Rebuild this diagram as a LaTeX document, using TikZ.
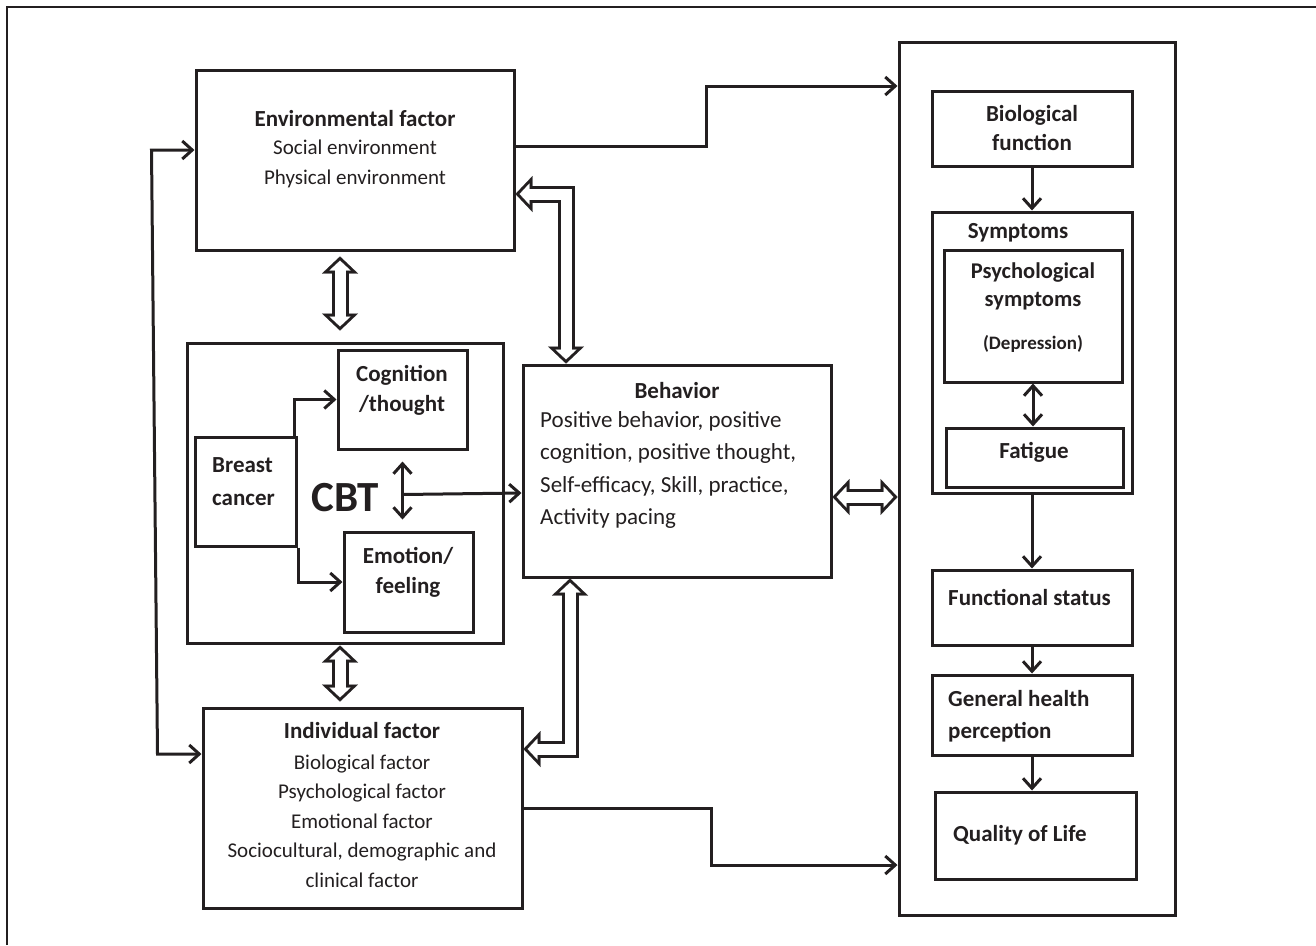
\documentclass[tikz,border=0pt]{standalone}
\usepackage{fontspec}
\setmainfont{Carlito}
\usetikzlibrary{arrows.meta}

\definecolor{tinta}{RGB}{35,31,32}

\tikzset{
  caja/.style={draw=tinta, line width=3pt, inner sep=0pt},
  titulo/.style={font=\fontsize{23}{30}\selectfont\bfseries, text=tinta, inner sep=0pt, align=center},
  texto/.style={font=\fontsize{21}{30}\selectfont, text=tinta, inner sep=0pt, align=center},
  flecha/.style={draw=tinta, line width=3pt, >={Straight Barb[length=10pt,width=18pt]}},
  dbla/.style={draw=tinta, line width=17pt, shorten <=16.5pt, shorten >=16.5pt},
  dblb/.style={draw=tinta, line width=0.1pt, {Triangle[length=17pt,width=36pt]}-{Triangle[length=17pt,width=36pt]}},
  dblc/.style={draw=white, line width=11pt, shorten <=13.5pt, shorten >=13.5pt},
  dbld/.style={draw=white, line width=0.1pt, shorten <=4.1pt, shorten >=4.1pt, {Triangle[length=9.9pt,width=21pt]}-{Triangle[length=9.9pt,width=21pt]}}
}

% flecha doble hueca
\newcommand{\flechadoble}[1]{%
  \draw[dbla] #1; \draw[dblb] #1; \draw[dblc] #1; \draw[dbld] #1;}

\begin{document}
\begin{tikzpicture}[x=1pt, y=-1pt]
		\useasboundingbox (0,0) rectangle (1316,945);
		% Marco
		\draw[tinta, line width=1.7pt] (7,945) -- (7,7) -- (1316,7);
		
		% Cajas de la izquierda
		\node[caja, minimum width=318pt, minimum height=180pt] (env) at (355,160) {};
		\node[caja, minimum width=316pt, minimum height=300pt] (cbt) at (345,493) {};
		\node[caja, minimum width=129pt, minimum height=99pt] (cog) at (402.5,399.5) {};
		\node[caja, minimum width=101pt, minimum height=109pt] (breast) at (245.5,491.5) {};
		\node[caja, minimum width=129pt, minimum height=100pt] (emo) at (408.5,582) {};
		\node[caja, minimum width=308pt, minimum height=212pt] (beh) at (677,471) {};
		\node[caja, minimum width=319pt, minimum height=200pt] (ind) at (362.5,808) {};
		
		% Cajas de la derecha
		\node[caja, minimum width=276pt, minimum height=873pt] (outcome) at (1037,478.5) {};
		\node[caja, minimum width=200pt, minimum height=75pt] (bio) at (1032,128.5) {};
		\node[caja, minimum width=200pt, minimum height=281pt] (symp) at (1032,352.5) {};
		\node[caja, minimum width=178pt, minimum height=132pt] (psy) at (1033,316) {};
		\node[caja, minimum width=177pt, minimum height=59pt] (fat) at (1034.5,457.5) {};
		\node[caja, minimum width=200pt, minimum height=75pt] (func) at (1032,607.5) {};
		\node[caja, minimum width=200pt, minimum height=80pt] (gen) at (1032,715) {};
		\node[caja, minimum width=201pt, minimum height=87pt] (qol) at (1035.5,835.5) {};
		
		% Textos
		\node[titulo] (envtit) at (355,119) {Environmental factor};
		\node[texto] (envtxt) at (355,164) {Social environment\\Physical environment};
		\node[titulo] (cogtxt) at (402,390.5) {Cognition\\/thought};
		\node[titulo, font=\fontsize{23}{33}\selectfont\bfseries, align=left, anchor=west] (breasttxt) at (212,481.5) {Breast\\cancer};
		\node[titulo] (emotxt) at (408,572.5) {Emotion/\\feeling};
		\node[titulo, font=\fontsize{43}{50}\selectfont\bfseries] (cbtlbl) at (345,498) {CBT};
		\node[titulo] (behtit) at (677,391) {Behavior};
		\node[texto, font=\fontsize{23}{32.5}\selectfont, align=left, anchor=west] (behtxt) at (540,470) {Positive behavior, positive\\cognition, positive thought,\\Self-efficacy, Skill, practice,\\Activity pacing};
		\node[titulo] (indtit) at (362,731) {Individual factor};
		\node[texto, font=\fontsize{21}{29.5}\selectfont] (indtxt) at (362,821) {Biological factor\\Psychological factor\\Emotional factor\\Sociocultural, demographic and\\clinical factor};
		\node[titulo, font=\fontsize{23}{29}\selectfont\bfseries] (biotxt) at (1032,128.5) {Biological\\function};
		\node[titulo] (symptxt) at (1018,233) {Symptoms};
		\node[titulo, font=\fontsize{22.5}{28}\selectfont\bfseries] (psytxt) at (1033,286) {Psychological\\symptoms};
		\node[titulo, font=\fontsize{19}{22}\selectfont\bfseries] (deptxt) at (1033,344) {(Depression)};
		\node[titulo] (fattxt) at (1034,452) {Fatigue};
		\node[titulo, anchor=west] (functxt) at (948,597) {Functional status};
		\node[titulo, font=\fontsize{23}{32}\selectfont\bfseries, align=left, anchor=west] (gentxt) at (948,716) {General health\\perception};
		\node[titulo, anchor=west] (qoltxt) at (953,835) {Quality of Life};
		
		% Flechas simples
		\draw[flecha,<->] ([yshift=10pt]env.west) -- ++(-43,0) -- ([xshift=-44pt,yshift=54pt]ind.west) -- ([yshift=54pt]ind.west);
		\draw[flecha,->] ([yshift=14pt]env.east) -- ++(191,0) |- ([yshift=392.5pt]outcome.west);
		\draw[flecha,->] (ind.east) -- ++(188,0) |- ([yshift=-386.5pt]outcome.west);
		\draw[flecha,->] ([xshift=-3pt]breast.north east) |- (cog.west);
		\draw[flecha,->] ([xshift=1pt]breast.south east) |- (emo.west);
		\draw[flecha,<->] ([yshift=-11pt]cog.south) -- ++(0,58);
		\draw[flecha,->] ([yshift=-44pt]cog.south) -- ([yshift=-22pt]beh.west);
		\draw[flecha,->] (bio.south) -- (symp.north);
		\draw[flecha,<->] (psy.south) -- (psy.south |- fat.north);
		\draw[flecha,->] (symp.south) -- (func.north);
		\draw[flecha,->] (func.south) -- (gen.north);
		\draw[flecha,->] (gen.south) -- (gen.south |- qol.north);
		
		% Flechas dobles
		\flechadoble{([xshift=-15pt,yshift=-5pt]env.south) -- ([xshift=-5pt,yshift=11pt]cbt.north)}
		\flechadoble{([xshift=-5pt,yshift=-1pt]cbt.south) -- ([xshift=-22.5pt,yshift=5pt]ind.north)}
		\flechadoble{([yshift=-34pt]env.east) -| ([xshift=-111pt]beh.north)}
		\flechadoble{([xshift=-107pt]beh.south) |- ([yshift=59pt]ind.east)}
		\flechadoble{([yshift=-26pt]beh.east) -- ([yshift=-18.5pt]outcome.west)}
	\end{tikzpicture}
\end{document}
